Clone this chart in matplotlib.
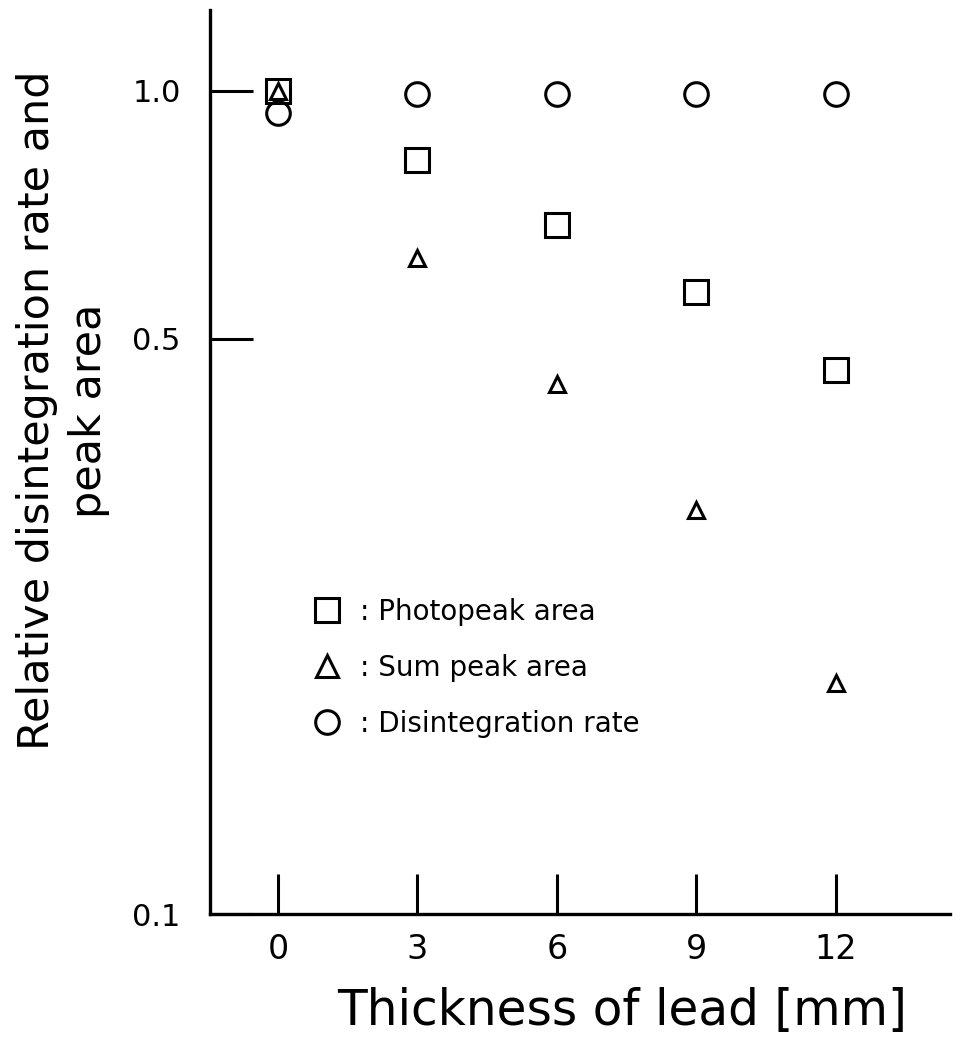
import numpy as np
import matplotlib
matplotlib.use("Agg")
import matplotlib.pyplot as plt
from matplotlib.lines import Line2D

# Data (relative values, log axis)
thickness = [0, 3, 6, 9, 12]
photopeak = [1.0, 0.824, 0.687, 0.570, 0.458]
sum_peak = [1.0, 0.627, 0.440, 0.310, 0.191]
disint_rate = [0.940, 0.992, 0.992, 0.992, 0.992]

x_ticks = [0, 3, 6, 9, 12]
y_ticks = [0.1, 0.5, 1.0]
y_ticklabels = ["0.1", "0.5", "1.0"]

legend_labels = [": Photopeak area", ": Sum peak area", ": Disintegration rate"]

plt.rcParams['font.family'] = ['DejaVu Sans']

fig = plt.figure(figsize=(9.63, 10.47), dpi=100)
ax = fig.add_axes([0.2181, 0.127, 0.768, 0.8634])

lw = 2.2
ax.plot(thickness, photopeak, 's', ms=17, mfc='white', mec='black', mew=lw, ls='none')
ax.plot(thickness, sum_peak, '^', ms=12, mfc='white', mec='black', mew=lw, ls='none')
ax.plot(thickness, disint_rate, 'o', ms=17, mfc='none', mec='black', mew=lw, ls='none')

ax.set_yscale('log')
ax.set_ylim(0.1, 1.254)
ax.set_xlim(-1.46, 14.45)

ax.spines['top'].set_visible(False)
ax.spines['right'].set_visible(False)
ax.spines['left'].set_linewidth(2.4)
ax.spines['bottom'].set_linewidth(2.4)

ax.set_xticks(x_ticks)
ax.set_xticklabels([str(v) for v in x_ticks])
ax.set_yticks(y_ticks)
ax.set_yticklabels(y_ticklabels)
ax.yaxis.set_minor_locator(matplotlib.ticker.NullLocator())

ax.tick_params(axis='x', direction='in', length=29, width=2.2, pad=14, labelsize=24)
ax.tick_params(axis='y', direction='in', length=31, width=2.2, pad=21, labelsize=22)

ax.set_xlabel("Thickness of lead [mm]", fontsize=35)
ax.xaxis.set_label_coords(0.557, -0.081)
ax.set_ylabel("Relative disintegration rate and\npeak area", fontsize=31,
              linespacing=1.3)
ax.yaxis.set_label_coords(-0.135, 0.557)

handles = [
    Line2D([], [], marker='s', ms=17, mfc='white', mec='black', mew=lw, ls='none'),
    Line2D([], [], marker='^', ms=16, mfc='white', mec='black', mew=lw, ls='none'),
    Line2D([], [], marker='o', ms=17, mfc='none', mec='black', mew=lw, ls='none'),
]
ax.legend(handles, legend_labels, loc='upper left', bbox_to_anchor=(0.12, 0.365),
          frameon=False, fontsize=20, handlelength=1.0, handletextpad=0.7,
          labelspacing=1.0, borderpad=0)

fig.savefig("out.png", dpi=100)
